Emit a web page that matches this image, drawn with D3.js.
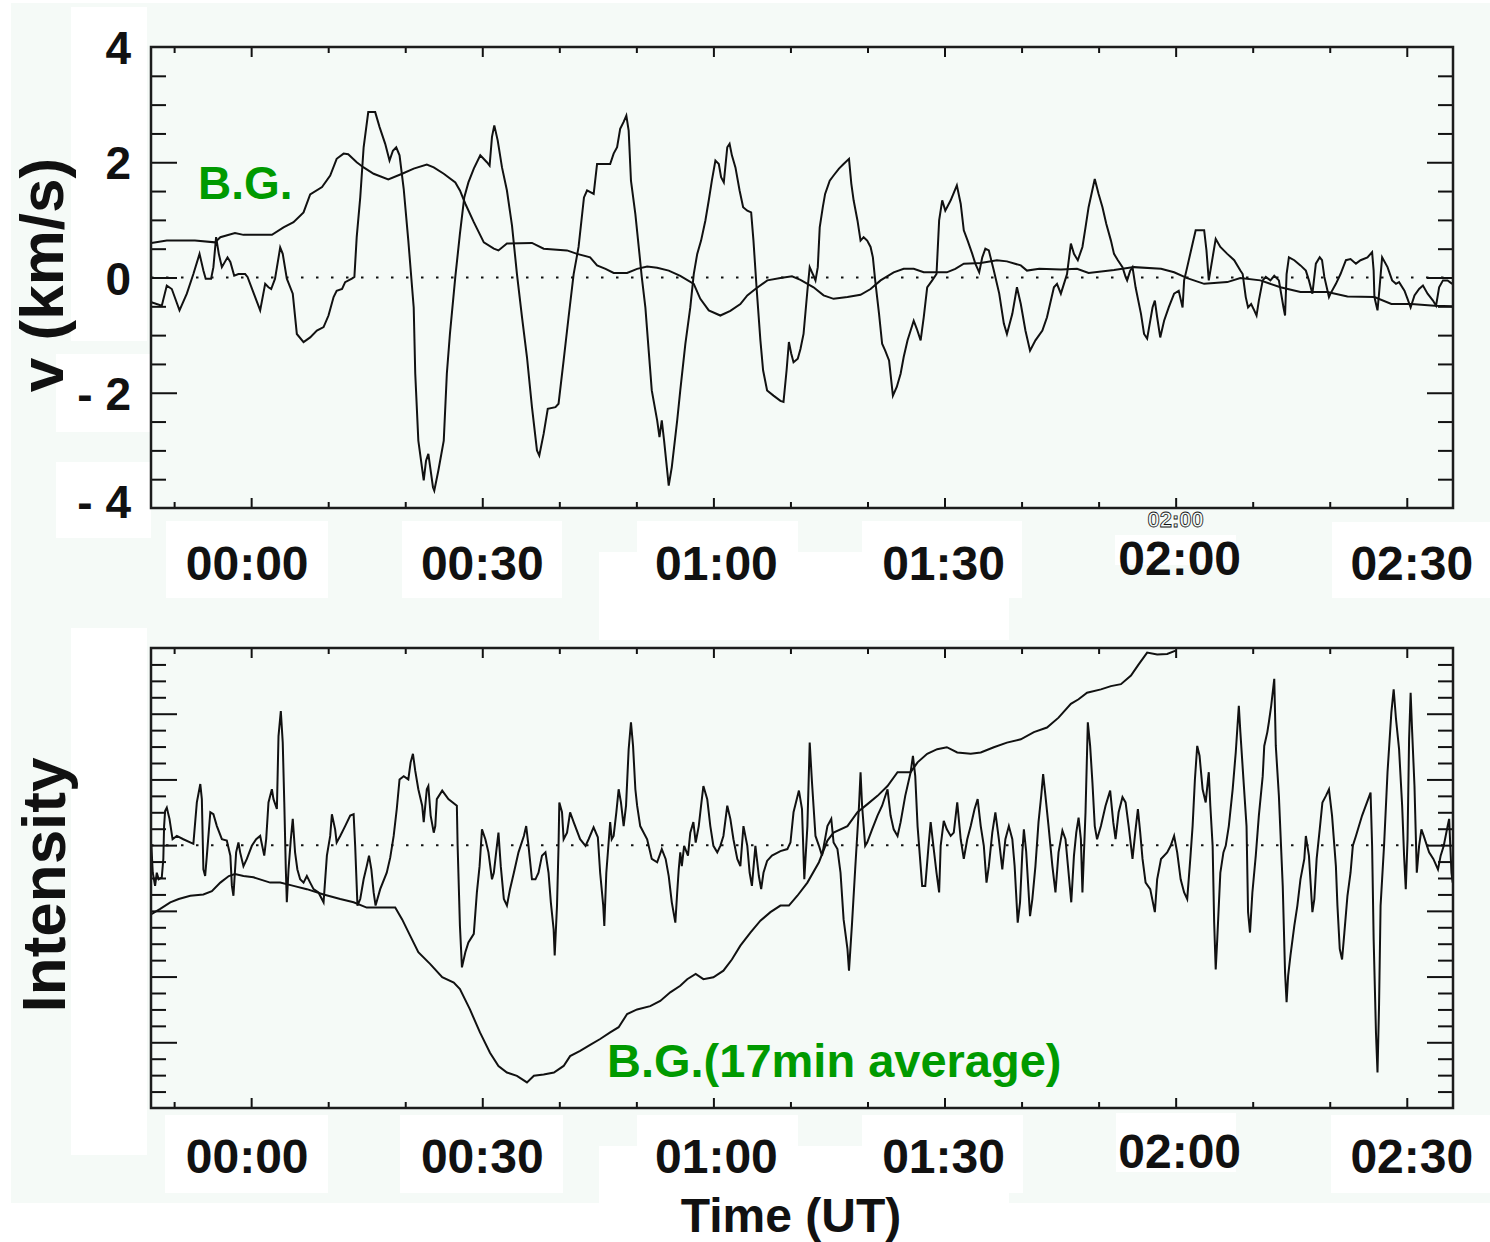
<!DOCTYPE html>
<html>
<head>
<meta charset="utf-8">
<script src="https://cdn.jsdelivr.net/npm/d3@7"></script>
<style>
  html, body { margin: 0; padding: 0; background: #fff; }
  svg { display: block; font-family: "Liberation Sans", Arial, Helvetica, sans-serif; font-weight: bold; }
</style>
</head>
<body>
<svg id="chart" width="1490" height="1242"></svg>
<script>
/* ── Data (t = minutes from 00:00 UT) ─────────────────── */
const timeTicks   = [0, 30, 60, 90, 120, 150];
const timeLabels  = ['00:00', '00:30', '01:00', '01:30', '02:00', '02:30'];
const vTicks      = [4, 2, 0, -2, -4];
const vTickLabels = ['4', '2', '0', '- 2', '- 4'];

// Doppler velocity (km/s)
const velocity = [
  [-12.95,-0.43],[-11.6,-0.49],[-10.95,-0.14],[-10.3,-0.2],[-9.3,-0.57],[-8.35,-0.28],[-7.5,0.06],[-6.7,0.41],
  [-6.2,0.12],[-5.9,-0.02],[-5.2,-0.02],[-4.9,0.18],[-4.55,0.7],[-4.2,0.41],[-3.8,0.18],[-3.07,0.35],[-2.7,0.27],
  [-2.2,0.03],[-1.65,0.06],[-0.78,0.06],[-0.47,0.01],[0.52,-0.34],[1.17,-0.57],[1.82,-0.11],[2.25,-0.17],[2.6,-0.2],
  [3.1,-0.02],[3.77,0.52],[4.1,0.41],[4.63,-0.02],[5.4,-0.28],[5.93,-0.98],[6.8,-1.12],[7.66,-1.04],[8.53,-0.92],
  [9.4,-0.86],[10.04,-0.66],[10.7,-0.34],[11.1,-0.23],[11.8,-0.2],[12.2,-0.08],[13.07,-0.02],[13.4,0.01],[13.7,0.7],
  [14.16,1.39],[14.6,2.26],[15.2,2.87],[16.1,2.87],[16.67,2.61],[17.4,2.32],[17.96,2.03],[18.4,2.2],[18.83,2.26],
  [19.26,2.12],[19.8,1.54],[20.4,0.64],[21.1,-0.52],[21.3,-1.67],[21.7,-2.83],[22.4,-3.52],[22.7,-3.18],[23.0,-3.06],
  [23.6,-3.64],[23.77,-3.7],[24.3,-3.35],[25.0,-2.83],[25.4,-1.67],[25.8,-0.98],[26.5,0.01],[27.1,0.76],[27.66,1.39],
  [28.2,1.65],[28.9,1.89],[29.74,2.12],[30.6,2.0],[30.95,1.94],[31.26,2.44],[31.56,2.64],[32.0,2.38],[32.56,1.91],
  [33.2,1.51],[33.86,0.9],[34.5,0.06],[35.16,-0.69],[35.8,-1.38],[36.45,-2.25],[37.1,-3.0],[37.4,-3.09],[37.97,-2.71],
  [38.5,-2.28],[39.5,-2.25],[39.9,-2.19],[40.56,-1.44],[41.2,-0.69],[41.86,0.06],[42.5,0.53],[43.2,1.39],[43.6,1.51],
  [44.46,1.45],[44.9,1.97],[46.6,1.97],[47.05,2.15],[47.5,2.26],[47.9,2.58],[48.35,2.7],[48.7,2.81],[49.0,2.55],
  [49.3,1.68],[49.87,1.1],[50.4,0.41],[50.7,0.01],[51.17,-0.52],[51.6,-1.27],[52.0,-1.96],[52.7,-2.48],[53.0,-2.77],
  [53.3,-2.48],[53.6,-2.83],[54.0,-3.35],[54.2,-3.61],[54.6,-3.29],[55.3,-2.48],[55.7,-1.96],[56.36,-1.15],[57.0,-0.52],
  [57.45,0.06],[57.9,0.41],[58.4,0.64],[58.96,0.99],[59.4,1.34],[59.8,1.68],[60.26,2.03],[60.7,1.97],[61.0,1.74],
  [61.35,1.65],[61.8,2.26],[62.1,2.32],[62.4,2.12],[62.86,1.91],[63.4,1.51],[63.86,1.22],[64.4,1.16],[64.9,1.13],
  [65.2,0.64],[65.6,-0.17],[66.1,-1.09],[66.45,-1.61],[66.97,-1.96],[67.8,-2.05],[68.7,-2.14],[69.1,-2.16],[69.5,-1.61],
  [69.8,-1.12],[70.1,-1.32],[70.4,-1.47],[70.95,-1.41],[71.3,-1.24],[71.7,-0.98],[72.2,-0.23],[72.5,0.18],[72.8,0.09],
  [73.0,0.03],[73.25,-0.05],[73.55,0.18],[73.8,0.87],[74.2,1.22],[74.5,1.45],[75.1,1.68],[75.6,1.77],[76.3,1.89],
  [76.9,1.97],[77.6,2.06],[77.9,1.63],[78.2,1.34],[78.7,0.99],[79.1,0.64],[79.5,0.7],[79.96,0.64],[80.4,0.53],
  [80.7,0.35],[81.0,-0.05],[81.5,-0.63],[81.9,-1.15],[82.3,-1.27],[82.8,-1.44],[83.3,-2.05],[83.8,-1.9],[84.3,-1.67],
  [84.7,-1.38],[85.2,-1.09],[85.6,-0.92],[86.0,-0.75],[86.4,-0.89],[86.9,-1.09],[87.3,-0.69],[87.75,-0.17],[88.4,-0.05],
  [88.96,0.06],[89.3,0.99],[89.7,1.34],[90.1,1.16],[90.8,1.34],[91.6,1.6],[92.1,1.28],[92.5,0.82],[93.0,0.64],
  [93.6,0.41],[94.0,0.24],[94.5,0.09],[94.9,0.35],[95.3,0.5],[95.75,0.47],[96.4,0.12],[97.1,-0.28],[97.7,-0.8],
  [98.1,-0.98],[98.8,-0.63],[99.4,-0.17],[99.9,-0.46],[100.5,-0.92],[101.1,-1.27],[101.8,-1.09],[102.7,-0.92],
  [103.3,-0.69],[104.2,-0.17],[104.6,-0.11],[105.1,-0.28],[105.5,-0.11],[105.9,0.06],[106.4,0.59],[106.8,0.41],
  [107.3,0.3],[107.9,0.53],[108.3,0.87],[108.7,1.22],[109.5,1.71],[110.0,1.45],[110.5,1.22],[111.0,0.93],[111.6,0.64],
  [112.0,0.41],[112.5,0.3],[113.1,0.18],[113.5,0.01],[113.7,-0.05],[114.1,0.12],[114.4,0.18],[114.8,-0.17],[115.5,-0.63],
  [115.9,-0.98],[116.3,-1.06],[117.0,-0.52],[117.3,-0.4],[117.6,-0.69],[118.0,-1.04],[118.5,-0.75],[119.1,-0.52],
  [119.8,-0.28],[120.4,-0.23],[120.9,-0.52],[121.1,-0.05],[121.5,0.18],[122.2,0.59],[122.6,0.82],[123.7,0.82],
  [124.0,0.47],[124.3,-0.05],[124.8,0.35],[125.2,0.67],[125.8,0.53],[126.7,0.41],[127.6,0.3],[128.4,0.12],[128.7,0.06],
  [129.1,-0.34],[129.4,-0.52],[129.8,-0.46],[130.2,-0.57],[130.5,-0.66],[130.8,-0.4],[131.3,-0.05],[131.7,0.01],
  [132.3,-0.05],[132.8,0.03],[133.4,-0.05],[134.0,-0.52],[134.2,-0.66],[134.4,0.06],[134.7,0.35],[135.4,0.3],
  [136.2,0.21],[136.9,0.12],[137.3,-0.05],[137.75,-0.28],[138.2,0.24],[138.7,0.35],[139.0,0.3],[139.3,0.01],
  [139.9,-0.34],[140.1,-0.28],[140.8,-0.11],[141.4,0.06],[142.1,0.3],[142.7,0.32],[143.4,0.24],[144.0,0.3],
  [144.9,0.35],[145.5,0.44],[145.7,0.12],[145.8,-0.34],[146.2,-0.57],[146.4,-0.28],[146.8,0.35],[147.5,0.18],
  [148.1,-0.05],[148.6,-0.11],[149.0,-0.08],[149.7,-0.23],[150.1,-0.37],[150.5,-0.52],[151.0,-0.31],[151.6,-0.2],
  [152.1,-0.14],[152.7,-0.28],[153.4,-0.4],[153.8,-0.49],[154.2,-0.17],[154.7,-0.05],[155.3,-0.05],[155.9,-0.11]
];

// velocity background (running mean)
const velocityBG = [
  [-12.95,0.6],[-10.95,0.64],[-7.3,0.64],[-4.7,0.61],[-4.0,0.7],[-2.1,0.77],[-1.0,0.74],[2.7,0.74],[4.2,0.87],
  [5.5,0.96],[6.8,1.13],[7.66,1.44],[9.2,1.57],[10.26,1.77],[11.1,2.06],[12.0,2.15],[12.6,2.14],[13.7,2.0],
  [14.6,1.91],[15.9,1.8],[17.8,1.7],[19.6,1.8],[21.1,1.89],[22.8,1.96],[23.7,1.91],[25.0,1.8],[26.5,1.65],
  [27.1,1.51],[27.8,1.28],[28.9,0.96],[30.2,0.61],[31.5,0.5],[32.1,0.47],[33.2,0.59],[36.45,0.6],[37.97,0.5],
  [41.0,0.47],[42.3,0.41],[44.0,0.35],[44.9,0.21],[46.0,0.15],[47.05,0.08],[48.8,0.08],[50.1,0.15],[51.4,0.19],
  [52.7,0.17],[54.2,0.12],[55.7,0.03],[57.45,-0.11],[58.3,-0.37],[59.4,-0.57],[60.9,-0.66],[62.2,-0.58],
  [63.5,-0.46],[64.4,-0.31],[65.45,-0.2],[67.0,-0.05],[68.7,-0.01],[70.2,0.02],[71.3,-0.04],[73.0,-0.17],
  [74.3,-0.31],[75.6,-0.37],[77.4,-0.34],[79.1,-0.3],[80.4,-0.2],[81.7,-0.05],[83.4,0.09],[84.7,0.15],[86.0,0.15],
  [87.3,0.09],[90.3,0.09],[91.4,0.15],[92.5,0.24],[94.7,0.25],[96.8,0.3],[98.1,0.28],[99.9,0.21],[100.7,0.12],
  [102.3,0.15],[105.1,0.14],[107.2,0.15],[108.7,0.08],[112.0,0.13],[114.6,0.18],[118.1,0.15],[119.8,0.09],
  [121.5,-0.01],[123.7,-0.11],[126.7,-0.08],[128.4,-0.01],[131.0,-0.05],[133.6,-0.17],[136.2,-0.25],[139.7,-0.25],
  [142.3,-0.33],[145.8,-0.34],[148.0,-0.46],[150.6,-0.46],[153.6,-0.49],[155.9,-0.5]
];

// intensity fluctuation (arbitrary units)
const intensity = [
  [-12.95,-0.01],[-12.77,-0.42],[-12.47,-0.62],[-12.25,-0.42],[-12.0,-0.52],[-11.6,-0.49],[-11.4,-0.21],[-11.3,0.29],
  [-11.17,0.52],[-10.95,0.57],[-10.6,0.4],[-10.2,0.09],[-9.65,0.14],[-8.8,0.09],[-7.5,0.02],[-7.05,0.65],[-6.6,0.93],
  [-6.4,0.7],[-6.2,-0.37],[-5.97,-0.47],[-5.75,-0.16],[-5.3,0.5],[-4.9,0.47],[-4.45,0.29],[-3.8,0.09],[-3.16,0.07],
  [-2.7,-0.16],[-2.5,-0.62],[-2.3,-0.77],[-1.95,-0.11],[-1.65,0.04],[-1.43,-0.11],[-1.0,-0.32],[-0.56,-0.21],
  [0.09,-0.01],[0.65,0.09],[1.17,0.14],[1.7,-0.16],[1.95,0.09],[2.25,0.65],[2.69,0.85],[2.9,0.7],[3.34,0.55],
  [3.55,1.66],[3.85,2.04],[4.1,1.56],[4.3,0.65],[4.5,-0.37],[4.63,-0.87],[4.85,-0.37],[5.15,0.09],[5.4,0.4],
  [5.7,-0.11],[6.0,-0.37],[6.36,-0.52],[6.8,-0.57],[7.23,-0.47],[7.66,-0.57],[8.1,-0.67],[8.74,-0.72],[9.4,-0.87],
  [9.83,-0.16],[10.26,0.14],[10.48,0.47],[10.9,0.24],[11.1,0.04],[11.56,0.14],[12.2,0.29],[12.86,0.45],[13.3,0.47],
  [13.5,-0.01],[13.8,-0.92],[14.16,-0.82],[14.6,-0.52],[15.0,-0.32],[15.3,-0.16],[15.6,-0.37],[15.9,-0.72],
  [16.15,-0.92],[16.75,-0.67],[17.6,-0.42],[18.05,-0.19],[18.5,0.14],[18.9,0.55],[19.26,1.0],[19.8,1.05],[20.4,1.0],
  [20.7,1.26],[21.0,1.39],[21.3,1.13],[21.7,0.85],[22.2,0.6],[22.4,0.35],[22.8,0.85],[23.0,0.9],[23.3,0.45],
  [23.7,0.19],[23.9,0.29],[24.1,0.7],[24.8,0.83],[25.6,0.7],[26.7,0.6],[26.8,-0.01],[27.1,-1.23],[27.36,-1.86],
  [27.8,-1.63],[28.2,-1.48],[28.9,-1.35],[29.3,-0.72],[29.65,-0.32],[29.96,0.24],[30.4,0.09],[30.8,-0.11],
  [31.26,-0.52],[31.5,-0.42],[31.8,-0.11],[32.1,0.19],[32.4,-0.32],[32.8,-0.82],[33.2,-0.92],[33.6,-0.67],
  [34.1,-0.42],[34.7,-0.11],[35.4,0.14],[35.7,0.29],[36.0,-0.01],[36.45,-0.52],[36.9,-0.52],[37.3,-0.42],
  [37.75,-0.16],[38.2,-0.11],[38.6,-0.42],[38.9,-0.87],[39.26,-1.28],[39.4,-1.68],[39.7,-0.92],[39.9,-0.01],
  [40.0,0.65],[40.35,0.5],[40.56,0.09],[41.0,0.19],[41.4,0.5],[41.86,0.35],[42.7,0.09],[43.4,-0.01],[43.8,0.09],
  [44.45,0.27],[45.0,0.12],[45.3,-0.42],[45.7,-0.92],[45.84,-1.23],[46.1,-0.42],[46.4,0.04],[46.6,0.35],[46.8,0.09],
  [47.05,0.14],[47.4,0.5],[47.7,0.85],[48.0,0.65],[48.35,0.29],[48.66,0.6],[49.0,1.46],[49.3,1.87],[49.57,1.51],
  [49.87,0.85],[50.1,0.6],[50.5,0.29],[51.4,0.09],[52.0,-0.21],[52.7,-0.26],[53.3,-0.06],[53.8,-0.21],[54.2,-0.47],
  [54.6,-0.87],[55.06,-1.18],[55.3,-0.72],[55.5,-0.37],[55.7,-0.11],[55.9,-0.32],[56.2,-0.01],[56.7,-0.16],
  [57.0,0.19],[57.4,0.35],[57.7,0.04],[58.1,0.29],[58.4,0.6],[58.7,0.9],[59.2,0.7],[59.6,0.29],[60.0,-0.01],
  [60.5,-0.11],[60.9,-0.01],[61.3,0.14],[61.8,0.6],[62.2,0.4],[62.6,0.09],[63.1,-0.21],[63.5,-0.32],[63.9,0.29],
  [64.4,-0.01],[64.7,-0.42],[65.0,-0.62],[65.45,-0.01],[65.9,-0.47],[66.2,-0.67],[66.5,-0.42],[66.97,-0.24],
  [67.6,-0.16],[68.7,-0.09],[69.6,-0.06],[70.0,0.04],[70.4,0.5],[71.1,0.83],[71.5,0.55],[71.8,-0.52],[72.2,0.29],
  [72.5,1.56],[72.8,0.95],[73.25,0.14],[73.7,-0.01],[74.1,-0.16],[74.8,0.29],[75.3,0.4],[75.6,0.04],[76.1,-0.06],
  [76.5,-0.42],[76.9,-1.13],[77.4,-1.58],[77.6,-1.91],[78.0,-1.18],[78.4,-0.37],[78.9,0.6],[79.1,1.11],[79.3,0.6],
  [79.7,-0.01],[79.96,0.04],[80.6,0.24],[81.3,0.45],[81.9,0.6],[82.6,0.85],[83.0,0.45],[83.4,0.24],[83.9,0.14],
  [84.3,0.35],[84.9,0.75],[85.6,1.11],[85.9,1.36],[86.2,1.05],[86.5,0.29],[86.9,-0.32],[87.1,-0.62],[87.5,-0.62],
  [87.96,0.04],[88.2,0.35],[88.6,-0.06],[88.96,-0.42],[89.3,-0.72],[89.5,-0.01],[89.9,0.37],[90.3,0.24],[90.8,0.14],
  [91.2,0.19],[91.65,0.65],[92.1,0.09],[92.5,-0.21],[92.95,0.09],[93.4,0.29],[93.9,0.55],[94.3,0.7],[94.7,0.29],
  [95.1,-0.01],[95.45,-0.57],[95.75,-0.32],[96.2,0.19],[96.6,0.5],[97.05,0.09],[97.5,-0.37],[97.9,0.09],[98.35,0.29],
  [98.8,0.09],[99.1,-0.32],[99.5,-1.18],[99.8,-0.87],[100.1,-0.11],[100.3,0.24],[100.6,-0.1],[101.1,-1.08],
  [101.4,-0.82],[101.8,-0.32],[102.2,0.35],[102.55,0.75],[102.8,1.08],[103.1,0.75],[103.5,0.29],[104.0,-0.32],
  [104.4,-0.72],[104.8,-0.11],[105.3,0.22],[105.7,0.09],[106.1,-0.42],[106.45,-0.87],[106.8,-0.16],[107.1,0.19],
  [107.4,0.42],[107.7,0.09],[107.9,-0.72],[108.3,0.5],[108.6,1.87],[108.9,1.51],[109.2,0.95],[109.5,0.29],
  [109.8,0.09],[110.3,0.29],[110.9,0.6],[111.5,0.83],[111.9,0.35],[112.2,0.09],[112.6,0.5],[113.1,0.73],[113.5,0.65],
  [113.9,0.29],[114.4,-0.21],[114.8,0.24],[115.1,0.55],[115.4,0.19],[115.7,-0.21],[116.1,-0.57],[116.7,-0.67],
  [117.3,-1.02],[117.6,-0.52],[118.1,-0.21],[118.9,-0.11],[119.35,-0.01],[119.8,0.14],[120.2,-0.11],[120.65,-0.52],
  [121.1,-0.72],[121.5,-0.82],[121.9,-0.21],[122.2,0.29],[122.5,1.0],[122.8,1.51],[123.1,1.36],[123.5,0.85],
  [123.9,0.65],[124.2,1.0],[124.3,1.11],[124.5,0.6],[124.8,-0.01],[125.0,-1.18],[125.2,-1.89],[125.4,-1.43],
  [125.8,-0.42],[126.2,-0.11],[126.5,-0.01],[126.9,0.29],[127.4,0.85],[127.8,1.41],[128.2,2.12],[128.4,1.72],
  [128.8,1.0],[129.2,0.29],[129.4,-1.02],[129.65,-1.33],[129.96,-0.72],[130.4,-0.16],[130.8,0.45],[131.3,1.05],
  [131.5,1.51],[131.9,1.72],[132.1,1.87],[132.4,2.12],[132.8,2.53],[133.0,1.51],[133.4,0.75],[133.9,-0.62],
  [134.2,-1.94],[134.4,-2.39],[134.6,-1.99],[134.9,-1.68],[135.4,-1.23],[135.8,-0.92],[136.2,-0.52],[136.7,-0.21],
  [136.9,0.14],[137.3,-0.16],[137.75,-1.02],[138.0,-0.82],[138.3,-0.21],[138.7,0.24],[139.05,0.65],[139.5,0.75],
  [139.9,0.85],[140.3,0.45],[140.6,-0.01],[140.8,-0.32],[141.0,-0.92],[141.3,-1.58],[141.6,-1.74],[141.9,-1.33],
  [142.3,-0.77],[142.7,-0.42],[143.0,-0.01],[143.4,0.14],[144.2,0.45],[145.3,0.8],[145.5,-0.01],[145.7,-1.43],
  [146.0,-2.85],[146.2,-3.46],[146.4,-2.45],[146.6,-0.92],[147.05,-0.01],[147.5,1.11],[148.0,2.02],[148.3,2.37],
  [148.6,1.92],[149.0,1.46],[149.4,0.6],[149.65,-0.16],[149.87,-0.67],[150.1,0.09],[150.3,1.61],[150.5,2.32],
  [150.7,1.72],[151.0,0.9],[151.3,-0.42],[151.6,-0.01],[151.9,0.24],[152.2,0.14],[152.9,-0.11],[153.45,-0.21],
  [154.05,-0.37],[154.4,-0.16],[154.8,-0.01],[155.3,0.29],[155.5,0.4],[155.8,-0.42],[155.96,-0.57]
];

// intensity background (17 min average)
const intensityBG = [
  [-12.95,-1.05],[-11.8,-0.97],[-10.5,-0.87],[-9.4,-0.82],[-7.9,-0.77],[-6.2,-0.75],[-5.1,-0.7],[-4.0,-0.57],
  [-2.9,-0.47],[-2.1,-0.44],[-1.0,-0.47],[0.3,-0.49],[2.47,-0.57],[3.77,-0.57],[5.5,-0.62],[7.23,-0.67],[9.4,-0.75],
  [11.56,-0.82],[13.3,-0.87],[15.0,-0.95],[18.7,-0.95],[19.6,-1.13],[20.65,-1.38],[21.7,-1.63],[23.25,-1.81],
  [24.8,-2.01],[26.3,-2.09],[27.1,-2.19],[28.4,-2.5],[29.7,-2.85],[31.0,-3.16],[32.1,-3.36],[33.2,-3.46],[34.5,-3.51],
  [35.8,-3.61],[36.7,-3.51],[37.97,-3.49],[39.3,-3.46],[40.56,-3.36],[41.4,-3.21],[42.7,-3.13],[44.0,-3.04],
  [45.3,-2.95],[46.6,-2.85],[47.7,-2.77],[48.8,-2.57],[50.1,-2.5],[51.8,-2.45],[53.1,-2.37],[54.4,-2.24],[55.7,-2.14],
  [56.6,-2.04],[57.7,-1.96],[58.7,-2.04],[60.0,-2.01],[61.3,-1.91],[62.4,-1.74],[63.5,-1.53],[64.8,-1.33],
  [66.1,-1.15],[67.4,-1.02],[68.7,-0.92],[69.8,-0.92],[70.9,-0.77],[72.2,-0.57],[73.7,-0.26],[74.8,0.07],[75.6,0.19],
  [77.4,0.29],[78.7,0.5],[79.96,0.62],[81.3,0.75],[82.6,0.9],[83.9,1.11],[85.6,1.11],[86.5,1.26],[87.75,1.39],
  [89.05,1.46],[90.3,1.49],[91.65,1.41],[93.4,1.39],[94.7,1.41],[96.4,1.49],[98.1,1.56],[99.9,1.61],[101.6,1.72],
  [103.3,1.79],[104.8,1.94],[106.4,2.15],[107.4,2.22],[108.5,2.32],[110.3,2.37],[111.6,2.42],[112.9,2.45],
  [114.2,2.58],[115.2,2.75],[116.3,2.93],[117.6,2.9],[118.9,2.91],[120.0,2.96]
];

/* ── Layout ───────────────────────────────────────────── */
const W = 1490, H = 1242;
const MINT  = '#f5faf7';
const INK   = '#111';
const GREEN = '#009a00';
const FONT  = '"Liberation Sans", Arial, Helvetica, sans-serif';

// white paper patches left behind the pasted labels
const patches = [
  [71, 7, 76, 334], [56, 354, 95, 78], [56, 462, 95, 76],
  [166, 521, 162, 77], [402, 521, 160, 77], [637, 521, 161, 31], [599, 552, 410, 88],
  [862, 521, 160, 77], [1115, 535, 121, 30], [1332, 522, 158, 76],
  [71, 628, 76, 527],
  [165, 1115, 163, 78], [400, 1115, 163, 78], [637, 1115, 161, 31], [599, 1146, 410, 57],
  [862, 1115, 161, 78], [1116, 1113, 120, 59], [1331, 1115, 159, 78]
];
// horizontal nudges of the pasted time labels, px
const labelNudge = [-4, 0, 3, -1, 4, 5];

const svg = d3.select('#chart');

svg.append('rect')
  .attr('x', 11).attr('y', 3).attr('width', W - 11).attr('height', 1200)
  .attr('fill', MINT);

const x  = d3.scaleLinear().domain([-13, 156]).range([151, 1453]);
const yV = d3.scaleLinear().domain([-4, 4]).range([508, 47]);
const yI = d3.scaleLinear().domain([-4, 3]).range([1108, 648]);

/* ── Panel drawing ────────────────────────────────────── */
function drawPanel(id, y, yMajor, yMinor, series) {
  const [yb, yt] = y.range();
  const [xl, xr] = x.range();
  const g = svg.append('g');

  g.append('clipPath').attr('id', 'clip-' + id)
    .append('rect').attr('x', xl).attr('y', yt).attr('width', xr - xl).attr('height', yb - yt);

  const plot = g.append('g').attr('clip-path', `url(#clip-${id})`);

  // zero reference
  plot.append('line')
    .attr('x1', xl).attr('x2', xr).attr('y1', y(0)).attr('y2', y(0))
    .attr('stroke', INK).attr('stroke-width', 2).attr('stroke-dasharray', '2.5 12.5');

  const line = d3.line().x(d => x(d[0])).y(d => y(d[1]));
  series.forEach(s => {
    plot.append('path').datum(s)
      .attr('d', line)
      .attr('fill', 'none')
      .attr('stroke', INK)
      .attr('stroke-width', 2)
      .attr('stroke-linejoin', 'miter');
  });

  // inward ticks on all four sides
  const xMinor = d3.range(-10, 156, 10).filter(t => t % 30 !== 0);
  const axes = [
    [d3.axisBottom(x).tickValues(timeTicks).tickSize(-10), `translate(0,${yb})`],
    [d3.axisBottom(x).tickValues(xMinor).tickSize(-6), `translate(0,${yb})`],
    [d3.axisTop(x).tickValues(timeTicks).tickSize(-10), `translate(0,${yt})`],
    [d3.axisTop(x).tickValues(xMinor).tickSize(-6), `translate(0,${yt})`],
    [d3.axisLeft(y).tickValues(yMajor).tickSize(-26), `translate(${xl},0)`],
    [d3.axisLeft(y).tickValues(yMinor).tickSize(-15), `translate(${xl},0)`],
    [d3.axisRight(y).tickValues(yMajor).tickSize(-26), `translate(${xr},0)`],
    [d3.axisRight(y).tickValues(yMinor).tickSize(-15), `translate(${xr},0)`]
  ];
  axes.forEach(([ax, tr]) => {
    const a = g.append('g').attr('transform', tr).call(ax.tickFormat(''));
    a.select('.domain').remove();
    a.selectAll('line').attr('stroke', INK).attr('stroke-width', 2);
  });

  g.append('rect')
    .attr('x', xl).attr('y', yt).attr('width', xr - xl).attr('height', yb - yt)
    .attr('fill', 'none').attr('stroke', '#1c1c1c').attr('stroke-width', 2.5);
}

// ghost of an older label, peeking above the 02:00 patch
svg.append('text')
  .attr('x', x(120)).attr('y', 527)
  .attr('text-anchor', 'middle')
  .style('font-family', FONT).style('font-size', '22px').style('font-weight', 'bold')
  .attr('fill', 'none').attr('stroke', INK).attr('stroke-width', 0.8)
  .text('02:00');

svg.selectAll('rect.patch')
  .data(patches).join('rect')
  .attr('class', 'patch')
  .attr('x', d => d[0]).attr('y', d => d[1])
  .attr('width', d => d[2]).attr('height', d => d[3])
  .attr('fill', '#fff');

const topMinor = d3.range(-3.5, 3.6, 0.5).filter(v => v % 2 !== 0);
const botMinor = d3.range(-3.75, 2.9, 0.25).filter(v => Math.abs(v - Math.round(v)) > 1e-6);

drawPanel('v', yV, [-2, 0, 2], topMinor, [velocityBG, velocity]);
drawPanel('i', yI, [-3, -2, -1, 0, 1, 2], botMinor, [intensityBG, intensity]);

/* ── Text ─────────────────────────────────────────────── */
function label(sel, size, fill) {
  return sel.style('font-family', FONT).style('font-weight', 'bold')
    .style('font-size', size + 'px').attr('fill', fill || INK);
}

// velocity tick labels
label(svg.append('g').selectAll('text').data(vTicks).join('text'), 46)
  .attr('x', 131)
  .attr('y', d => yV(d) + (d === -4 ? 10 : 17))
  .attr('text-anchor', 'end')
  .text((d, i) => vTickLabels[i]);

// time labels (both panels)
[[580, 575], [1173, 1168]].forEach(([base, base2]) => {
  label(svg.append('g').selectAll('text').data(timeTicks).join('text'), 48)
    .attr('x', (d, i) => x(d) + labelNudge[i])
    .attr('y', d => d === 120 ? base2 : base)
    .attr('text-anchor', 'middle')
    .text((d, i) => timeLabels[i]);
});

label(svg.append('text'), 62)
  .attr('transform', 'translate(63,275) rotate(-90)')
  .attr('text-anchor', 'middle')
  .text('v (km/s)');

label(svg.append('text'), 62)
  .attr('transform', 'translate(65,885) rotate(-90)')
  .attr('text-anchor', 'middle')
  .text('Intensity');

label(svg.append('text'), 48)
  .attr('x', 791).attr('y', 1232)
  .attr('text-anchor', 'middle')
  .text('Time (UT)');

label(svg.append('text'), 46, GREEN)
  .attr('x', 198).attr('y', 199)
  .text('B.G.');

label(svg.append('text'), 47, GREEN)
  .attr('x', 607).attr('y', 1077)
  .text('B.G.(17min average)');
</script>
</body>
</html>
